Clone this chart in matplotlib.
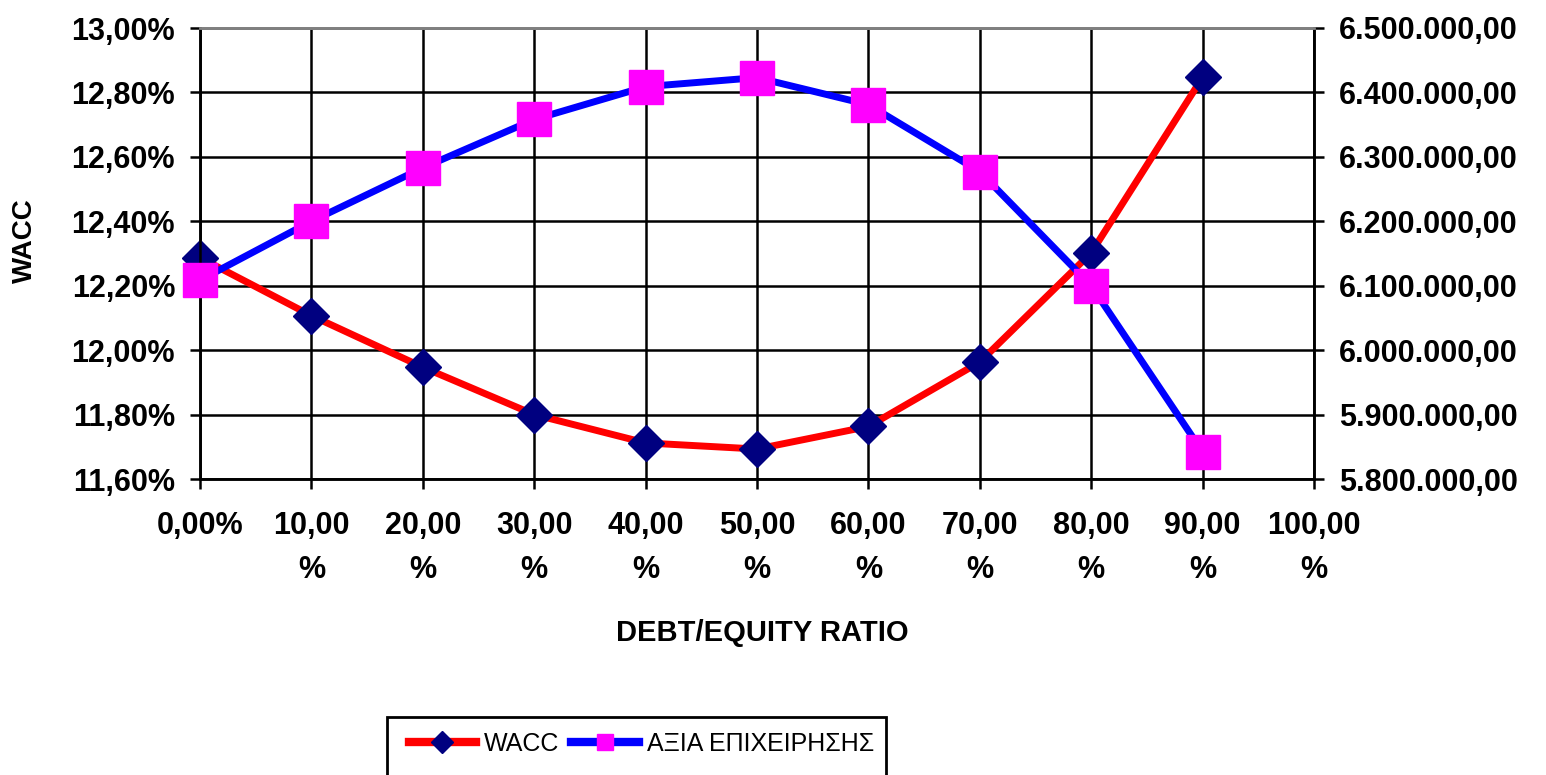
import matplotlib
matplotlib.use("Agg")
import matplotlib.pyplot as plt
from matplotlib.lines import Line2D
from matplotlib.patches import Rectangle
from matplotlib.ticker import FuncFormatter

# ---- data ----
debt_ratio = [0, 10, 20, 30, 40, 50, 60, 70, 80, 90]
wacc = [12.287, 12.107, 11.947, 11.800, 11.712, 11.693, 11.763, 11.963, 12.302, 12.847]
firm_value = [6108500, 6200000, 6283000, 6358000, 6409000, 6423000, 6381000, 6277000, 6100000, 5842000]
x_ticks = [0, 10, 20, 30, 40, 50, 60, 70, 80, 90, 100]
x_tick_labels = ["0,00%", "10,00\n%", "20,00\n%", "30,00\n%", "40,00\n%", "50,00\n%",
                 "60,00\n%", "70,00\n%", "80,00\n%", "90,00\n%", "100,00\n%"]
left_ticks = [11.6, 11.8, 12.0, 12.2, 12.4, 12.6, 12.8, 13.0]
right_ticks = [5800000, 5900000, 6000000, 6100000, 6200000, 6300000, 6400000, 6500000]
series_names = ["WACC", "ΑΞΙΑ ΕΠΙΧΕΙΡΗΣΗΣ"]
x_label = "DEBT/EQUITY RATIO"
y_label = "WACC"

plt.rcParams['font.family'] = ['Liberation Sans', 'DejaVu Sans']

W, H = 1546, 775
fig = plt.figure(figsize=(W / 100, H / 100), dpi=100)
ax = fig.add_axes([200 / W, 1 - 479 / H, (1314 - 200) / W, (479 - 28) / H])
ax2 = ax.twinx()

ax.set_xlim(0, 100)
ax.set_ylim(11.6, 13.0)
ax2.set_ylim(5800000, 6500000)

# grid / ticks
ax.set_xticks(x_ticks)
ax.set_xticklabels(x_tick_labels, fontsize=22, fontweight='bold', linespacing=1.6)
ax.set_yticks(left_ticks)
ax.yaxis.set_major_formatter(FuncFormatter(lambda v, p: f"{v:.2f}%".replace('.', ',')))
ax2.set_yticks(right_ticks)


def fmt_money(v, p):
    s = f"{v:,.2f}"
    return s.replace(',', 'X').replace('.', ',').replace('X', '.')


ax2.yaxis.set_major_formatter(FuncFormatter(fmt_money))
for lab in ax.get_yticklabels() + ax2.get_yticklabels():
    lab.set_fontsize(22)
    lab.set_fontweight('bold')

ax.grid(True, color='black', linewidth=1.8)
ax.set_axisbelow(True)
ax.tick_params(axis='x', direction='out', length=7, width=1.8, pad=16)
ax.tick_params(axis='y', direction='out', length=7, width=1.8, pad=11)
ax2.tick_params(axis='y', direction='out', length=7, width=1.8, pad=11)

for a in (ax, ax2):
    for s in ('left', 'right', 'bottom'):
        a.spines[s].set_color('black')
        a.spines[s].set_linewidth(1.8)
    a.spines['top'].set_color('#808080')
    a.spines['top'].set_linewidth(2.0)

# series
ax.plot(debt_ratio, wacc, color='#FF0000', linewidth=5, marker='D', markersize=18.5,
        markerfacecolor='#000080', markeredgecolor='#000080', zorder=3, clip_on=False)
ax2.plot(debt_ratio, firm_value, color='#0000FF', linewidth=5, marker='s', markersize=25,
         markerfacecolor='#FF00FF', markeredgecolor='#FF00FF', zorder=3, clip_on=False)

# axis labels
fig.text(25 / W, 1 - 241 / H, y_label, rotation=90, ha='center', va='center',
         fontsize=20, fontweight='bold')
fig.text(762 / W, 1 - 633 / H, x_label, ha='center', va='center',
         fontsize=21, fontweight='bold')

# legend
handles = [
    Line2D([], [], color='#FF0000', linewidth=6, marker='D', markersize=11,
           markerfacecolor='#000080', markeredgecolor='#000080'),
    Line2D([], [], color='#0000FF', linewidth=6, marker='s', markersize=11,
           markerfacecolor='#FF00FF', markeredgecolor='#FF00FF'),
]
leg = fig.legend(handles, series_names, loc='center left',
                 bbox_to_anchor=(386 / W, 1 - 744 / H), frameon=False,
                 ncol=2, handlelength=2.7, handletextpad=0.32, columnspacing=0.48,
                 prop={'size': 18})
fig.patches.append(Rectangle((387 / W, -0.05), (886 - 387) / W, (1 - 717 / H) + 0.05,
                             transform=fig.transFigure, fill=False, edgecolor='black',
                             linewidth=2, clip_on=False))

fig.savefig('out.png', dpi=100, facecolor='white')
